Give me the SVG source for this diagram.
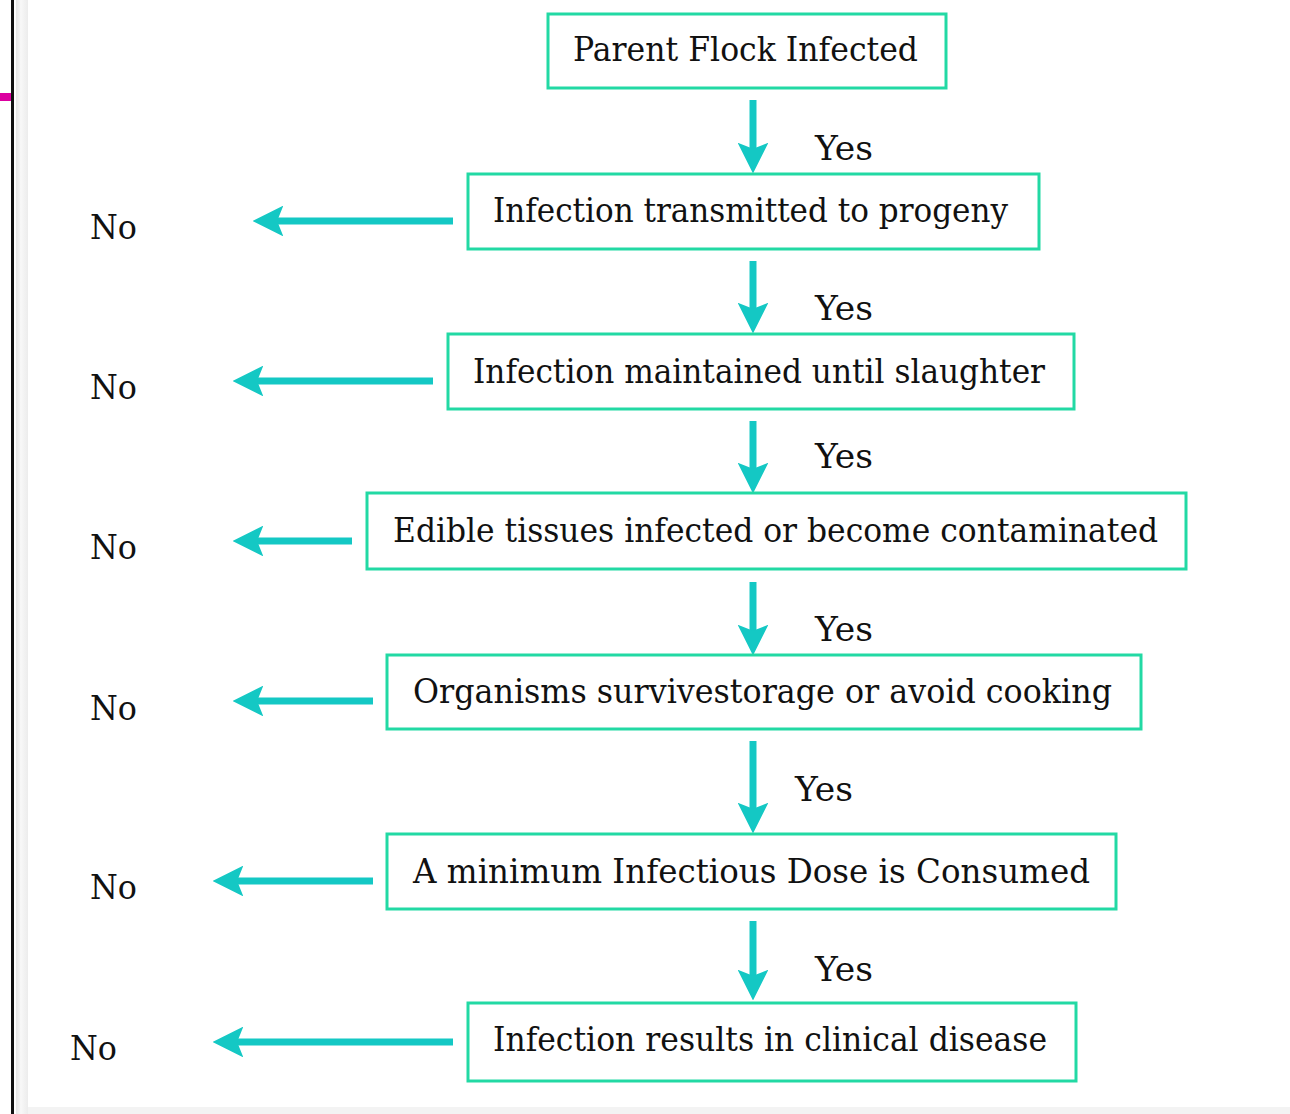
<svg xmlns="http://www.w3.org/2000/svg" width="1290" height="1114" viewBox="0 0 1290 1114">
  <defs>
    <linearGradient id="edge" x1="0" y1="0" x2="1" y2="0">
      <stop offset="0" stop-color="#e6e6e6"/>
      <stop offset="0.4" stop-color="#f8f8f8"/>
      <stop offset="1" stop-color="#ececec"/>
    </linearGradient>
    <!-- solid arrowhead; refX sits in the notch so the shaft ends inside the head -->
    <marker id="head" viewBox="0 0 10 10" refX="4" refY="5" markerWidth="4.4" markerHeight="4.4" markerUnits="strokeWidth" orient="auto">
      <path d="M0,0 L10,5 L0,10 L2,5 Z" fill="#14c8c4"/>
    </marker>
  </defs>
  <style>
    .box { fill: #ffffff; stroke: #22d9a4; stroke-width: 3; }
    .lbl { font-family: "DejaVu Serif", "Liberation Serif", serif; font-size: 33px; fill: #111111; }
    .side { font-family: "DejaVu Serif", "Liberation Serif", serif; font-size: 33px; fill: #111111; }
    .conn { stroke: #14c8c4; stroke-width: 7; fill: none; marker-end: url(#head); }
  </style>

  <!-- page background and frame -->
  <rect x="0" y="0" width="1290" height="1114" fill="#ffffff"/>
  <rect x="16" y="0" width="12" height="1114" fill="url(#edge)"/>
  <rect x="28" y="1107" width="1262" height="7" fill="#f3f3f3"/>
  <rect x="11" y="0" width="3" height="1114" fill="#111111"/>
  <rect x="0" y="93" width="11" height="8" fill="#dc00a0"/>

  <!-- connectors -->
  <g id="connectors">
    <line class="conn" x1="753" y1="100" x2="753" y2="155"/>
    <line class="conn" x1="753" y1="261" x2="753" y2="315"/>
    <line class="conn" x1="753" y1="421" x2="753" y2="475"/>
    <line class="conn" x1="753" y1="582" x2="753" y2="637"/>
    <line class="conn" x1="753" y1="741" x2="753" y2="815"/>
    <line class="conn" x1="753" y1="921" x2="753" y2="982"/>

    <line class="conn" x1="453" y1="221" x2="271" y2="221"/>
    <line class="conn" x1="433" y1="381" x2="251" y2="381"/>
    <line class="conn" x1="352" y1="541" x2="251" y2="541"/>
    <line class="conn" x1="373" y1="701" x2="251" y2="701"/>
    <line class="conn" x1="373" y1="881" x2="231" y2="881"/>
    <line class="conn" x1="453" y1="1042" x2="231" y2="1042"/>

    <text class="side" x="815" y="160" textLength="58" lengthAdjust="spacingAndGlyphs">Yes</text>
    <text class="side" x="815" y="320" textLength="58" lengthAdjust="spacingAndGlyphs">Yes</text>
    <text class="side" x="815" y="468" textLength="58" lengthAdjust="spacingAndGlyphs">Yes</text>
    <text class="side" x="815" y="641" textLength="58" lengthAdjust="spacingAndGlyphs">Yes</text>
    <text class="side" x="795" y="801" textLength="58" lengthAdjust="spacingAndGlyphs">Yes</text>
    <text class="side" x="815" y="981" textLength="58" lengthAdjust="spacingAndGlyphs">Yes</text>

    <text class="side" x="90" y="239" textLength="47" lengthAdjust="spacingAndGlyphs">No</text>
    <text class="side" x="90" y="399" textLength="47" lengthAdjust="spacingAndGlyphs">No</text>
    <text class="side" x="90" y="559" textLength="47" lengthAdjust="spacingAndGlyphs">No</text>
    <text class="side" x="90" y="720" textLength="47" lengthAdjust="spacingAndGlyphs">No</text>
    <text class="side" x="90" y="899" textLength="47" lengthAdjust="spacingAndGlyphs">No</text>
    <text class="side" x="70" y="1060" textLength="47" lengthAdjust="spacingAndGlyphs">No</text>
  </g>

  <!-- decision steps -->
  <g id="n1">
    <rect class="box" x="548" y="14" width="398" height="74"/>
    <text class="lbl" x="573" y="61" textLength="345" lengthAdjust="spacingAndGlyphs">Parent Flock Infected</text>
  </g>
  <g id="n2">
    <rect class="box" x="468" y="174" width="571" height="75"/>
    <text class="lbl" x="493" y="222" textLength="515" lengthAdjust="spacingAndGlyphs">Infection transmitted to progeny</text>
  </g>
  <g id="n3">
    <rect class="box" x="448" y="334" width="626" height="75"/>
    <text class="lbl" x="473" y="383" textLength="572" lengthAdjust="spacingAndGlyphs">Infection maintained until slaughter</text>
  </g>
  <g id="n4">
    <rect class="box" x="367" y="493" width="819" height="76"/>
    <text class="lbl" x="393" y="542" textLength="765" lengthAdjust="spacingAndGlyphs">Edible tissues infected or become contaminated</text>
  </g>
  <g id="n5">
    <rect class="box" x="387" y="655" width="754" height="74"/>
    <text class="lbl" x="413" y="703" textLength="699" lengthAdjust="spacingAndGlyphs">Organisms survivestorage or avoid cooking</text>
  </g>
  <g id="n6">
    <rect class="box" x="387" y="834" width="729" height="75"/>
    <text class="lbl" x="413" y="883" textLength="677" lengthAdjust="spacingAndGlyphs">A minimum Infectious Dose is Consumed</text>
  </g>
  <g id="n7">
    <rect class="box" x="468" y="1003" width="608" height="78"/>
    <text class="lbl" x="493" y="1051" textLength="554" lengthAdjust="spacingAndGlyphs">Infection results in clinical disease</text>
  </g>
</svg>
